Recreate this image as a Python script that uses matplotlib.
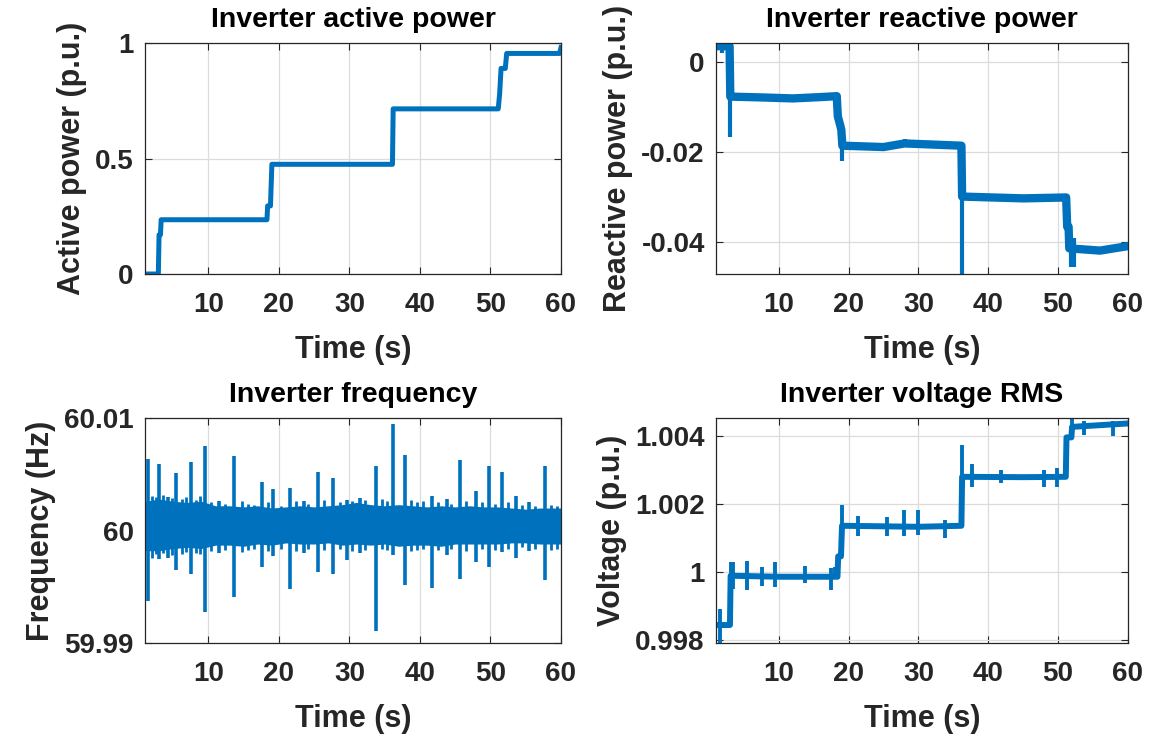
import matplotlib
matplotlib.use("Agg")
import matplotlib.pyplot as plt

plt.rcParams['font.family'] = ['Liberation Sans', 'DejaVu Sans']
plt.rcParams['font.weight'] = 'bold'

BLUE = '#0072BD'
TXT = '#262626'

# ---- active power (knots) ----
p_t = [1.0, 2.9, 3.0, 3.2, 3.3, 18.3, 18.4, 18.8, 19.0, 36.1, 36.2, 51.1, 51.3, 51.5, 52.1, 52.3, 59.8, 60.0]
p_val = [0.0, 0.0, 0.17, 0.17, 0.235, 0.235, 0.295, 0.295, 0.475, 0.475, 0.715, 0.715, 0.78, 0.89, 0.89, 0.955, 0.955, 0.98]

# ---- reactive power: base steps + short excursions ----
q_t = [1.0, 2.95, 3.05, 8.0, 12.0, 16.0, 18.3, 18.45, 18.8, 18.95, 19.1, 25.0, 28.0, 36.15, 36.25, 45.0, 51.15,
       51.3, 51.5, 51.6, 56.0, 60.0]
q_val = [0.0036, 0.0036, -0.0076, -0.0078, -0.0080, -0.0077, -0.0075, -0.0120, -0.0140, -0.0150, -0.0185, -0.0188,
         -0.0180, -0.0185, -0.0298, -0.0302, -0.0300, -0.0365, -0.0365, -0.0413, -0.0418, -0.0408]
q_spk_t = [1.9, 3.0, 12.2, 19.0, 28.0, 36.2, 51.8, 52.3]
q_spk_hi = [0.0036, 0.0036, -0.0078, -0.0150, -0.0170, -0.0185, -0.0390, -0.0390]
q_spk_lo = [0.0020, -0.0165, -0.0088, -0.0220, -0.0188, -0.0470, -0.0455, -0.0455]

# ---- frequency: band envelope + spikes ----
f_env_t = [1, 3, 5, 7, 9, 11, 13, 15, 17, 19, 21, 23, 25, 27, 29, 31, 33, 35, 37, 39, 41, 43, 45, 47, 49, 51, 53, 55, 57, 60]
f_env_hi = [60.0026, 60.0028, 60.0026, 60.0025, 60.0026, 60.0022, 60.0022, 60.0021, 60.0022, 60.0020, 60.0021, 60.0022,
            60.0021, 60.0022, 60.0023, 60.0025, 60.0023, 60.0022, 60.0023, 60.0022, 60.0021, 60.0022, 60.0021, 60.0022,
            60.0021, 60.0021, 60.0020, 60.0019, 60.0020, 60.0020]
f_env_lo = [59.9982, 59.9982, 59.9984, 59.9985, 59.9984, 59.9987, 59.9987, 59.9986, 59.9988, 59.9987, 59.9989, 59.9988,
            59.9988, 59.9989, 59.9987, 59.9988, 59.9987, 59.9988, 59.9986, 59.9987, 59.9987, 59.9986, 59.9988, 59.9988,
            59.9988, 59.9988, 59.9989, 59.9989, 59.9988, 59.9988]
f_spk_t = [1.4, 3.0, 4.3, 5.45, 7.5, 9.5, 11.5, 13.6, 17.6, 19.1, 21.6, 23.5, 25.6, 27.7, 29.7, 31.5,
           33.7, 36.2, 37.9, 41.7, 43.8, 45.7, 47.9, 49.8, 51.7, 53.6, 55.5, 57.7]
f_spk_hi = [60.0064, 60.0059, 60.0030, 60.0051, 60.0061, 60.0075, 60.0026, 60.0066, 60.0043, 60.0037, 60.0038, 60.0026,
            60.0052, 60.0047, 60.0027, 60.0029, 60.0057, 60.0095, 60.0067, 60.0031, 60.0028, 60.0063, 60.0035, 60.0057,
            60.0052, 60.0031, 60.0025, 60.0057]
f_spk_lo = [59.9937, 59.9975, 59.9976, 59.9965, 59.9961, 59.9928, 59.9980, 59.9941, 59.9968, 59.9977, 59.9948, 59.9980,
            59.9963, 59.9961, 59.9974, 59.9980, 59.9911, 59.9978, 59.9952, 59.9949, 59.9978, 59.9957, 59.9972, 59.9968,
            59.9981, 59.9976, 59.9982, 59.9956]
# small fringe ticks around the band
f_frg_t = [2.0, 2.5, 3.6, 4.8, 6.2, 6.8, 8.2, 8.8, 10.3, 12.3, 14.8, 15.6, 16.4, 18.4, 20.3, 22.4, 24.1, 26.4, 28.6,
           30.4, 32.2, 34.6, 35.3, 38.7, 39.6, 40.5, 42.6, 44.4, 46.6, 48.8, 50.6, 52.5, 54.5, 56.3, 58.6, 59.5]
f_frg_hi = [60.0031, 60.0030, 60.0032, 60.0029, 60.0028, 60.0030, 60.0027, 60.0031, 60.0025, 60.0024, 60.0026, 60.0024,
            60.0023, 60.0025, 60.0022, 60.0026, 60.0024, 60.0027, 60.0025, 60.0026, 60.0027, 60.0028, 60.0026, 60.0027,
            60.0025, 60.0026, 60.0025, 60.0024, 60.0026, 60.0025, 60.0024, 60.0025, 60.0023, 60.0022, 60.0023, 60.0022]
f_frg_lo = [59.9976, 59.9979, 59.9980, 59.9978, 59.9979, 59.9981, 59.9980, 59.9979, 59.9982, 59.9983, 59.9981, 59.9983,
            59.9984, 59.9982, 59.9984, 59.9982, 59.9984, 59.9983, 59.9984, 59.9982, 59.9983, 59.9984, 59.9983, 59.9982,
            59.9983, 59.9984, 59.9983, 59.9984, 59.9982, 59.9984, 59.9983, 59.9984, 59.9985, 59.9984, 59.9983, 59.9984]

# ---- voltage RMS: base steps + spikes ----
v_t = [1.0, 3.0, 3.1, 10.0, 18.4, 18.5, 18.9, 19.05, 30.0, 36.15, 36.25, 45.0, 51.1, 51.2, 51.9, 52.0, 60.0]
v_val = [0.99843, 0.99843, 0.99988, 0.99985, 0.99985, 1.00045, 1.00045, 1.00135, 1.00132, 1.00135, 1.00279,
         1.00278, 1.00279, 1.00395, 1.00395, 1.00426, 1.00436]
v_spk_t = [1.6, 3.1, 3.5, 5.5, 7.6, 9.4, 13.7, 17.5, 18.0, 19.05, 21.4, 25.5, 27.9, 29.9, 33.8, 36.25, 37.7,
           41.8, 48.0, 49.8, 52.0, 53.75, 57.8]
v_spk_hi = [0.99890, 1.00029, 1.00028, 1.00032, 1.00015, 1.00027, 1.00017, 1.00010, 1.00015, 1.00195, 1.00165,
            1.00160, 1.00182, 1.00180, 1.00152, 1.00374, 1.00318, 1.00300, 1.00300, 1.00305, 1.00450, 1.00444, 1.00444]
v_spk_lo = [0.99790, 0.99988, 0.99950, 0.99945, 0.99958, 0.99955, 0.99967, 0.99945, 0.99980, 1.00135, 1.00105,
            1.00105, 1.00105, 1.00108, 1.00098, 1.00279, 1.00248, 1.00262, 1.00248, 1.00248, 1.00395, 1.00402, 1.00398]

x_ticks = [10, 20, 30, 40, 50, 60]


def style(ax, title, ylabel):
    ax.set_xlim(1, 60)
    ax.set_xticks(x_ticks)
    ax.set_title(title, fontsize=20.5, fontweight='bold', color='black', pad=11.5)
    ax.set_xlabel('Time (s)', fontsize=22, fontweight='bold', color=TXT, labelpad=12)
    ax.set_ylabel(ylabel, fontsize=22, fontweight='bold', color=TXT, labelpad=6)
    ax.grid(True, color='#dcdcdc', linewidth=0.9)
    ax.set_axisbelow(True)
    ax.tick_params(direction='in', length=5, width=0.8, colors=TXT, labelsize=20,
                   top=True, right=True)
    ax.tick_params(axis='x', pad=13)
    ax.tick_params(axis='y', pad=8)
    for lab in ax.get_xticklabels() + ax.get_yticklabels():
        lab.set_fontweight('bold')
    for s in ax.spines.values():
        s.set_color(TXT)
        s.set_linewidth(0.9)


fig = plt.figure(figsize=(11.68, 7.37), dpi=100)
ax1 = fig.add_axes([0.1241, 0.6282, 0.3562, 0.3134])
ax2 = fig.add_axes([0.613, 0.6282, 0.3527, 0.3134])
ax3 = fig.add_axes([0.1241, 0.1275, 0.3562, 0.3053])
ax4 = fig.add_axes([0.613, 0.1275, 0.3527, 0.3053])

# active power
ax1.plot(p_t, p_val, color=BLUE, lw=3.6)
ax1.set_ylim(0, 1)
ax1.set_yticks([0, 0.5, 1])
ax1.set_yticklabels(['0', '0.5', '1'])
style(ax1, 'Inverter active power', 'Active power (p.u.)')

# reactive power
ax2.plot(q_t, q_val, color=BLUE, lw=6)
ax2.vlines(q_spk_t, q_spk_lo, q_spk_hi, color=BLUE, lw=3)
ax2.set_ylim(-0.047, 0.0043)
ax2.set_yticks([-0.04, -0.02, 0])
ax2.set_yticklabels(['-0.04', '-0.02', '0'])
style(ax2, 'Inverter reactive power', 'Reactive power (p.u.)')

# frequency
ax3.fill_between(f_env_t, f_env_lo, f_env_hi, color=BLUE, lw=0)
ax3.vlines(f_frg_t, f_frg_lo, f_frg_hi, color=BLUE, lw=2)
ax3.vlines(f_spk_t, f_spk_lo, f_spk_hi, color=BLUE, lw=2.6)
ax3.set_ylim(59.99, 60.01)
ax3.set_yticks([59.99, 60, 60.01])
ax3.set_yticklabels(['59.99', '60', '60.01'])
style(ax3, 'Inverter frequency', 'Frequency (Hz)')

# voltage
ax4.plot(v_t, v_val, color=BLUE, lw=4.3)
ax4.vlines(v_spk_t, v_spk_lo, v_spk_hi, color=BLUE, lw=2.8)
ax4.set_ylim(0.9979, 1.00452)
ax4.set_yticks([0.998, 1, 1.002, 1.004])
ax4.set_yticklabels(['0.998', '1', '1.002', '1.004'])
style(ax4, 'Inverter voltage RMS', 'Voltage (p.u.)')

fig.savefig('out.png', dpi=100, facecolor='white')
